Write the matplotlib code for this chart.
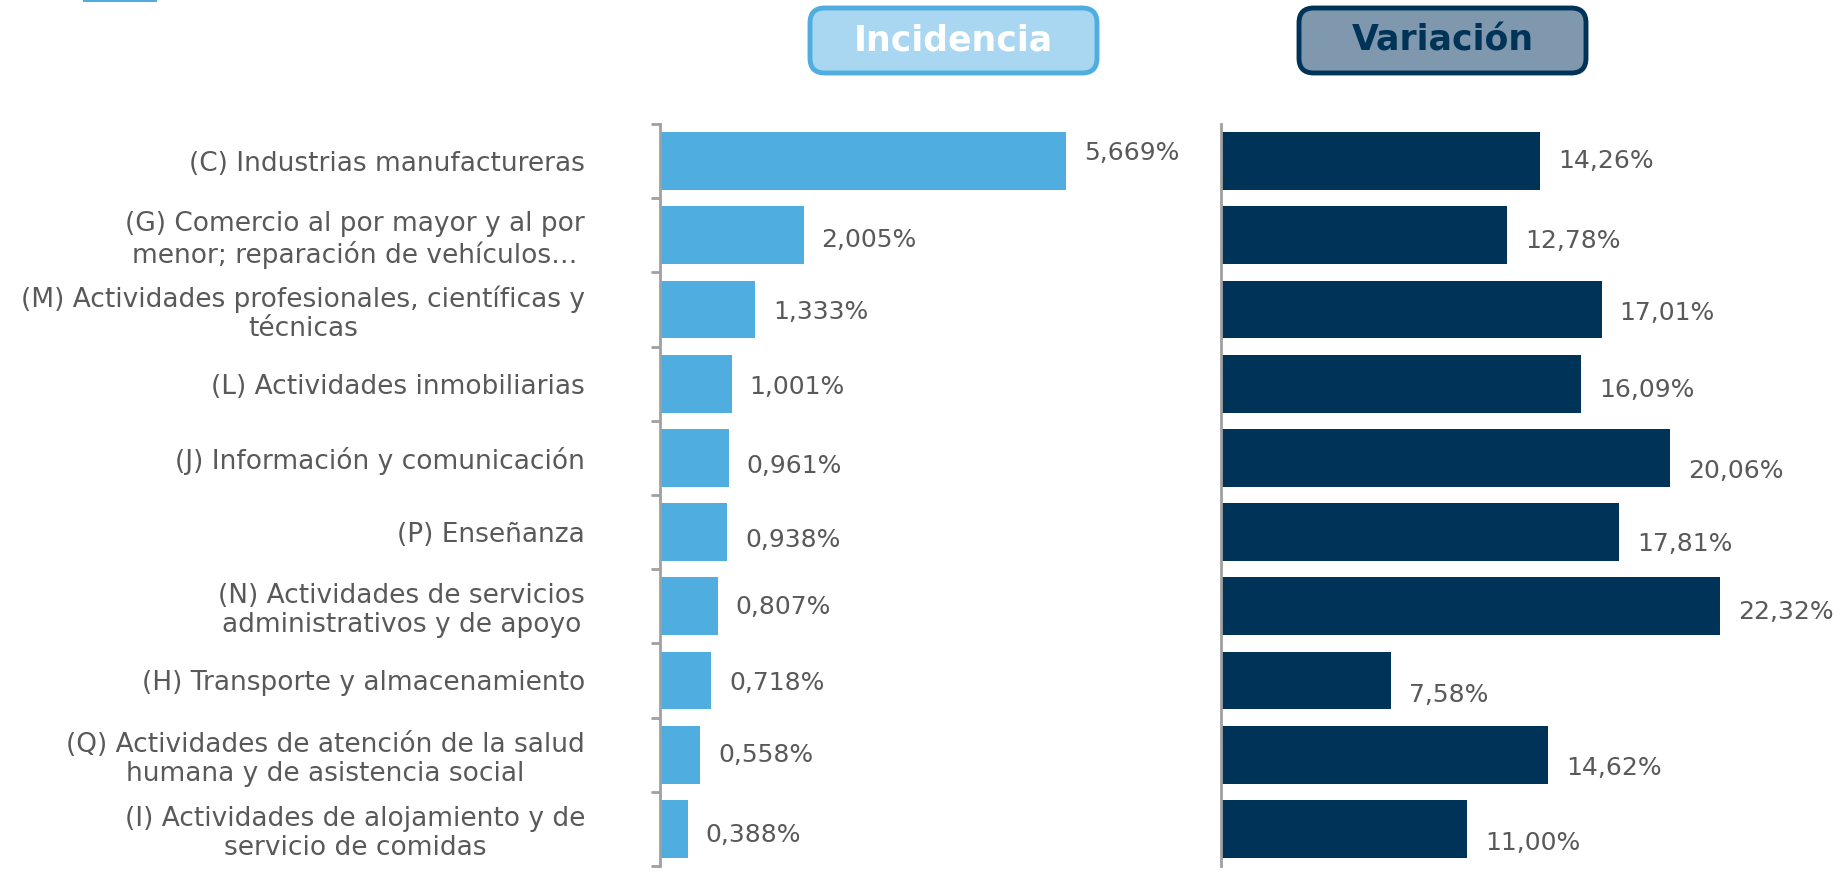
import matplotlib
matplotlib.use("Agg")
import matplotlib.pyplot as plt
from matplotlib.patches import FancyBboxPatch, Rectangle
import numpy as np

categories = [
    "(C) Industrias manufactureras",
    "(G) Comercio al por mayor y al por\nmenor; reparación de vehículos…",
    "(M) Actividades profesionales, científicas y\ntécnicas",
    "(L) Actividades inmobiliarias",
    "(J) Información y comunicación",
    "(P) Enseñanza",
    "(N) Actividades de servicios\nadministrativos y de apoyo",
    "(H) Transporte y almacenamiento",
    "(Q) Actividades de atención de la salud\nhumana y de asistencia social",
    "(I) Actividades de alojamiento y de\nservicio de comidas",
]
incidencia = [5.669, 2.005, 1.333, 1.001, 0.961, 0.938, 0.807, 0.718, 0.558, 0.388]
variacion = [14.26, 12.78, 17.01, 16.09, 20.06, 17.81, 22.32, 7.58, 14.62, 11.00]
incidencia_labels = ["5,669%", "2,005%", "1,333%", "1,001%", "0,961%", "0,938%", "0,807%", "0,718%", "0,558%", "0,388%"]
variacion_labels = ["14,26%", "12,78%", "17,01%", "16,09%", "20,06%", "17,81%", "22,32%", "7,58%", "14,62%", "11,00%"]

# label vertical nudges (points, positive = down), as placed in the original
incidencia_dy = [-6, 3.4, 1.7, 2.5, 6, 6, 0.8, 1.7, 0, 4.2]
variacion_dy = [0, 4.2, 2.5, 4.2, 9.3, 8.5, 4.2, 10.2, 9.3, 10.2]

W, H = 1846, 872
fig = plt.figure(figsize=(W / 100, H / 100), dpi=100)
FONT = "DejaVu Sans"
GRAY = "#595959"
LIGHT = "#4FADE0"
NAVY = "#003358"
SPINE = "#A0A0A0"

def fx(px):
    return px / W

def fy(py):
    return 1 - py / H

ax_top, ax_bot = 124, 866
axL = fig.add_axes([fx(660), fy(ax_bot), fx(1190 - 660), fy(ax_top) - fy(ax_bot)])
axR = fig.add_axes([fx(1221), fy(ax_bot), fx(1846 - 1221), fy(ax_top) - fy(ax_bot)])

n = len(categories)
y = np.arange(n)

for ax, vals, labs, dys, color, xmax in [
    (axL, incidencia, incidencia_labels, incidencia_dy, LIGHT, (1190 - 660) / 71.6),
    (axR, variacion, variacion_labels, variacion_dy, NAVY, (1846 - 1221) / 22.37),
]:
    ax.barh(y, vals, height=0.78, color=color)
    ax.set_xlim(0, xmax)
    ax.set_ylim(n - 0.5, -0.5)
    for s in ["top", "right", "bottom"]:
        ax.spines[s].set_visible(False)
    ax.spines["left"].set_color(SPINE)
    ax.spines["left"].set_linewidth(2)
    ax.set_xticks([])
    for yi, v, lab, dy in zip(y, vals, labs, dys):
        ax.annotate(lab, (v, yi), xytext=(13, -dy), textcoords="offset points",
                    ha="left", va="center", fontsize=18, color=GRAY, family=FONT,
                    annotation_clip=False)

axL.set_yticks(y)
axL.set_yticklabels(categories, fontsize=19, color=GRAY, family=FONT,
                    multialignment="center", linespacing=1.15)
axL.tick_params(axis="y", which="major", length=0, pad=54)
axL.set_yticks(np.arange(n + 1) - 0.5, minor=True)
axL.tick_params(axis="y", which="minor", length=6.5, width=2, color=SPINE)

axR.set_yticks([])

def title_box(x0, x1, y0, y1, face, edge, text, tcolor):
    box = FancyBboxPatch((fx(x0), fy(y1)), fx(x1 - x0), fy(y0) - fy(y1),
                         boxstyle="round,pad=0,rounding_size=0.008",
                         transform=fig.transFigure, facecolor=face, edgecolor=edge,
                         linewidth=3.5, mutation_aspect=W / H)
    fig.add_artist(box)
    fig.text(fx((x0 + x1) / 2), fy((y0 + y1) / 2), text, ha="center", va="center",
             fontsize=25, fontweight="bold", color=tcolor, family=FONT)

title_box(810, 1097, 8, 73, "#A9D6F0", LIGHT, "Incidencia", "white")
title_box(1299, 1586, 8, 73, "#7F98AD", NAVY, "Variación", NAVY)

fig.add_artist(Rectangle((fx(83), fy(2)), fx(157 - 83), fy(0) - fy(2),
                         transform=fig.transFigure, facecolor=LIGHT, edgecolor="none"))

fig.savefig("out.png", dpi=100)
